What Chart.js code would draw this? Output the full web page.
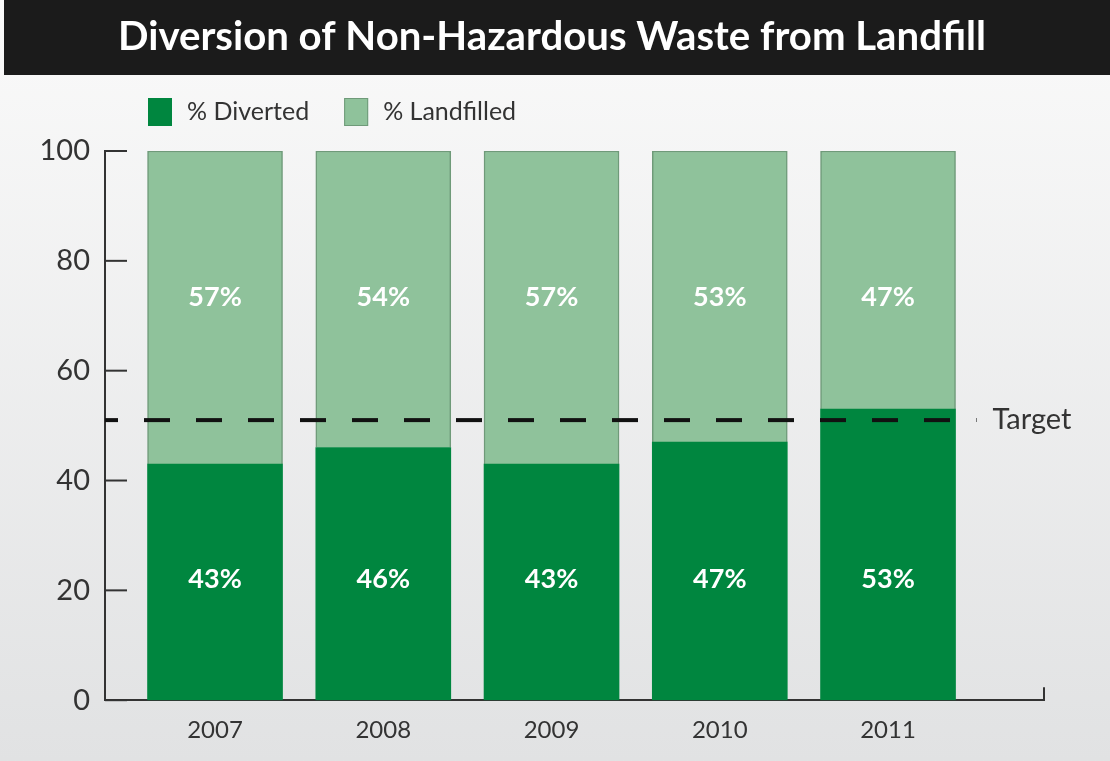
<!DOCTYPE html>
<html>
<head>
<meta charset="utf-8">
<script src="https://cdn.jsdelivr.net/npm/chart.js@4.4.1/dist/chart.umd.min.js"></script>
<style>
    html, body { margin: 0; padding: 0; }
    body { width: 1110px; height: 761px; overflow: hidden; }
    #wrap { position: relative; width: 1110px; height: 761px; }
</style>
</head>
<body>
<div id="wrap"><canvas id="waste-chart" width="1110" height="761"></canvas></div>
<script>
const chartTitle = 'Diversion of Non-Hazardous Waste from Landfill';
const years = [2007, 2008, 2009, 2010, 2011];
const divertedPct = [43, 46, 43, 47, 53];
const landfilledPct = [57, 54, 57, 53, 47];
const yTicks = [0, 20, 40, 60, 80, 100];
const targetPct = 51;
const targetLabel = 'Target';
const seriesNames = ['% Diverted', '% Landfilled'];

const palette = {
    diverted: '#00863f',
    landfilled: '#8fc29b',
    landfilledBorder: '#6f9a79',
    axis: '#333333',
    text: '#333333',
    titleBar: '#1b1b1b',
};

// labels sit at a fixed height in each band, not centred on the segment
const labelLevel = [22, 73.3];

const font = "Lato, 'Open Sans', sans-serif";

const backdrop = {
    id: 'backdrop',
    beforeDraw(chart) {
        const { ctx, width, height } = chart;
        ctx.save();
        const g = ctx.createLinearGradient(0, 0, 0, height);
        g.addColorStop(0, '#fafafa');
        g.addColorStop(1, '#e1e2e3');
        ctx.fillStyle = g;
        ctx.fillRect(0, 0, width, height);
        ctx.fillStyle = palette.titleBar;
        ctx.fillRect(4, 0, width - 4, 75);
        ctx.fillStyle = '#ffffff';
        ctx.font = `700 41px ${font}`;
        ctx.textAlign = 'center';
        ctx.textBaseline = 'middle';
        ctx.fillText(chartTitle, width / 2 - 3, 37, 868);
        ctx.restore();
    },
};

const extras = {
    id: 'extras',
    afterDatasetsDraw(chart) {
        const { ctx, chartArea } = chart;
        const y = chart.scales.y;
        ctx.save();

        // inward tick marks on the y axis
        ctx.strokeStyle = palette.axis;
        ctx.lineWidth = 2;
        yTicks.forEach((v) => {
            const py = y.getPixelForValue(v);
            ctx.beginPath();
            ctx.moveTo(chartArea.left, py);
            ctx.lineTo(chartArea.left + 22, py);
            ctx.stroke();
        });
        // end tick on x axis
        ctx.beginPath();
        ctx.moveTo(chartArea.right, chartArea.bottom);
        ctx.lineTo(chartArea.right, chartArea.bottom - 13);
        ctx.stroke();

        // segment labels
        ctx.fillStyle = '#ffffff';
        ctx.font = `700 27px ${font}`;
        ctx.textAlign = 'center';
        ctx.textBaseline = 'middle';
        chart.data.datasets.forEach((ds, di) => {
            const py = y.getPixelForValue(labelLevel[di]);
            chart.getDatasetMeta(di).data.forEach((bar, i) => {
                ctx.fillText(ds.data[i].y + '%', bar.x, py);
            });
        });

        // target line
        const ty = y.getPixelForValue(targetPct);
        const lastBar = chart.getDatasetMeta(0).data[years.length - 1];
        const lineEnd = lastBar.x + lastBar.width / 2 + 21;
        ctx.strokeStyle = '#111111';
        ctx.lineWidth = 4;
        ctx.setLineDash([26, 26]);
        ctx.lineDashOffset = 13;
        ctx.beginPath();
        ctx.moveTo(chartArea.left, ty);
        ctx.lineTo(lineEnd, ty);
        ctx.stroke();
        ctx.setLineDash([]);
        ctx.fillStyle = palette.text;
        ctx.font = `400 29px ${font}`;
        ctx.textAlign = 'left';
        ctx.fillText(targetLabel, lineEnd + 16, ty);

        // legend
        let lx = chartArea.left + 43;
        const ly = 98;
        ctx.font = `400 25px ${font}`;
        chart.data.datasets.forEach((ds) => {
            ctx.fillStyle = ds.backgroundColor;
            ctx.fillRect(lx, ly, 24, 28);
            ctx.strokeStyle = ds.borderColor;
            ctx.lineWidth = 1;
            ctx.strokeRect(lx + 0.5, ly + 0.5, 23, 27);
            ctx.fillStyle = palette.text;
            ctx.fillText(ds.label, lx + 39, ly + 14);
            lx += 39 + ctx.measureText(ds.label).width + 35;
        });
        ctx.restore();
    },
};

new Chart(document.getElementById('waste-chart'), {
    type: 'bar',
    data: {
        datasets: [
            {
                label: seriesNames[0],
                data: years.map((yr, i) => ({ x: yr, y: divertedPct[i] })),
                backgroundColor: palette.diverted,
                borderColor: palette.diverted,
                borderWidth: 0,
                barThickness: 135,
            },
            {
                label: seriesNames[1],
                data: years.map((yr, i) => ({ x: yr, y: landfilledPct[i] })),
                backgroundColor: palette.landfilled,
                borderColor: palette.landfilledBorder,
                borderWidth: 1.5,
                barThickness: 135,
            },
        ],
    },
    options: {
        responsive: false,
        animation: false,
        layout: { padding: { left: 35, right: 66, top: 151, bottom: 0 } },
        plugins: {
            legend: { display: false },
            tooltip: { enabled: false },
        },
        scales: {
            x: {
                type: 'linear',
                stacked: true,
                offset: false,
                bounds: 'data',
                min: 2006.346,
                max: 2011.927,
                afterBuildTicks: (s) => { s.ticks = years.map((v) => ({ value: v })); },
                grid: { display: false, drawTicks: false, offset: false },
                border: { display: true, color: palette.axis, width: 2 },
                ticks: {
                    padding: 16,
                    color: palette.text,
                    font: { family: font, size: 24 },
                    callback: (v) => String(v),
                },
            },
            y: {
                stacked: true,
                min: 0,
                max: 100,
                afterBuildTicks: (s) => { s.ticks = yTicks.map((v) => ({ value: v })); },
                afterFit: (s) => { s.width = 70; },
                grid: { display: false, drawTicks: false },
                border: { display: true, color: palette.axis, width: 2 },
                ticks: {
                    padding: 15,
                    color: palette.text,
                    font: { family: font, size: 29 },
                },
            },
        },
    },
    plugins: [backdrop, extras],
});
</script>
</body>
</html>
